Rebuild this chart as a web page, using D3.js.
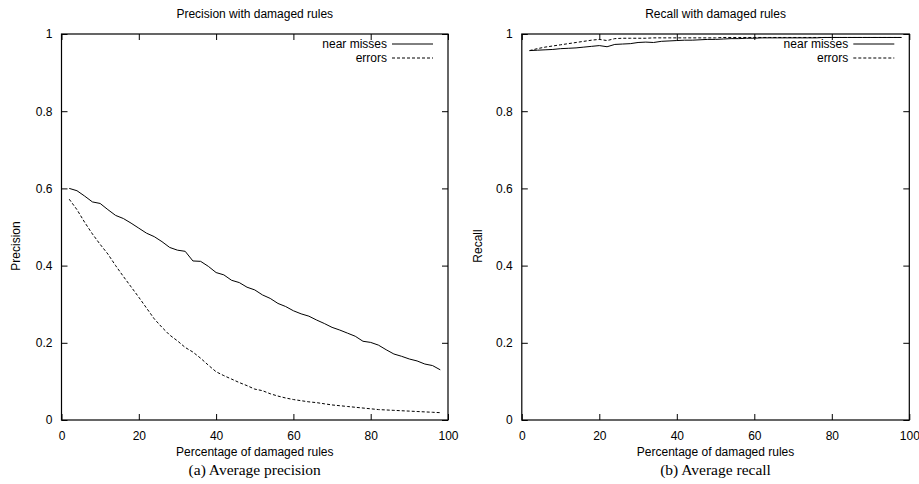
<!DOCTYPE html>
<html lang="en">
<head>
<meta charset="utf-8">
<title>Precision and recall with damaged rules</title>
<style>
  body { margin: 0; background: #fff; }
  svg text { font-family: "Liberation Sans", Arial, sans-serif; font-size: 12px; fill: #000; }
  svg text.caption { font-family: "Liberation Serif", "Times New Roman", serif; font-size: 15.5px; }
</style>
</head>
<body>
<div id="container"></div>
<script src="https://cdnjs.cloudflare.com/ajax/libs/d3/7.8.5/d3.min.js"></script>
<script>
// damaged rule percentages (x values)
var damaged = [2, 4, 6, 8, 10, 12, 14, 16, 18, 20, 22, 24, 26, 28, 30, 32, 34, 36, 38, 40,
  42, 44, 46, 48, 50, 52, 54, 56, 58, 60, 62, 64, 66, 68, 70, 72, 74, 76, 78, 80,
  82, 84, 86, 88, 90, 92, 94, 96, 98];

var precisionNearMisses = [0.600, 0.594, 0.580, 0.565, 0.561, 0.545, 0.530, 0.522, 0.510, 0.497,
  0.484, 0.475, 0.462, 0.447, 0.440, 0.437, 0.412, 0.411, 0.398, 0.382,
  0.376, 0.362, 0.356, 0.344, 0.337, 0.324, 0.315, 0.302, 0.294, 0.283,
  0.275, 0.269, 0.259, 0.250, 0.240, 0.233, 0.225, 0.217, 0.204, 0.201,
  0.194, 0.182, 0.171, 0.165, 0.158, 0.153, 0.145, 0.141, 0.130];

var precisionErrors = [0.572, 0.545, 0.512, 0.482, 0.455, 0.430, 0.400, 0.372, 0.345, 0.318,
  0.290, 0.262, 0.240, 0.220, 0.205, 0.188, 0.176, 0.160, 0.142, 0.125,
  0.115, 0.106, 0.097, 0.089, 0.080, 0.076, 0.068, 0.062, 0.057, 0.053,
  0.050, 0.047, 0.045, 0.042, 0.039, 0.037, 0.035, 0.033, 0.031, 0.029,
  0.027, 0.026, 0.025, 0.024, 0.023, 0.022, 0.021, 0.020, 0.019];

var recallNearMisses = [0.957, 0.958, 0.959, 0.960, 0.962, 0.963, 0.964, 0.966, 0.968, 0.970,
  0.967, 0.973, 0.974, 0.975, 0.978, 0.979, 0.978, 0.981, 0.982, 0.983,
  0.984, 0.984, 0.985, 0.986, 0.986, 0.987, 0.988, 0.988, 0.989, 0.989,
  0.990, 0.990, 0.990, 0.990, 0.990, 0.990, 0.990, 0.990, 0.991, 0.991,
  0.991, 0.991, 0.991, 0.991, 0.991, 0.991, 0.991, 0.991, 0.991];

var recallErrors = [0.957, 0.962, 0.966, 0.969, 0.972, 0.975, 0.978, 0.981, 0.984, 0.986,
  0.983, 0.988, 0.989, 0.989, 0.989, 0.989, 0.990, 0.990, 0.990, 0.990,
  0.990, 0.990, 0.990, 0.990, 0.990, 0.991, 0.991, 0.991, 0.991, 0.991,
  0.991, 0.991, 0.991, 0.991, 0.991, 0.991, 0.991, 0.991, 0.991, 0.991,
  0.991, 0.991, 0.991, 0.991, 0.991, 0.991, 0.991, 0.991, 0.991];

var xTicks = [0, 20, 40, 60, 80, 100];
var yTicks = [0, 0.2, 0.4, 0.6, 0.8, 1];
var seriesNames = ["near misses", "errors"];

var width = 919, height = 484;

var svg = d3.select("#container").append("svg")
  .attr("width", width)
  .attr("height", height);

// one gnuplot-style panel
function drawPanel(opts) {
  var x = d3.scaleLinear().domain([0, 100]).range([opts.left, opts.right]);
  var y = d3.scaleLinear().domain([0, 1]).range([420, 34]);
  var g = svg.append("g");

  // frame
  g.append("rect")
    .attr("x", x(0)).attr("y", y(1))
    .attr("width", x(100) - x(0)).attr("height", y(0) - y(1))
    .attr("fill", "none").attr("stroke", "#000").attr("stroke-width", 1.2);

  // ticks inward, mirrored
  var tl = 6;
  g.append("g")
    .attr("transform", "translate(0," + y(0) + ")")
    .call(d3.axisBottom(x).tickValues(xTicks).tickSize(-tl).tickPadding(tl + 5).tickFormat(d3.format("d")))
    .call(function(a) { a.select(".domain").remove(); });
  g.append("g")
    .attr("transform", "translate(0," + y(1) + ")")
    .call(d3.axisTop(x).tickValues(xTicks).tickSize(-tl).tickFormat(""))
    .call(function(a) { a.select(".domain").remove(); });
  g.append("g")
    .attr("transform", "translate(" + x(0) + ",0)")
    .call(d3.axisLeft(y).tickValues(yTicks).tickSize(-tl).tickPadding(tl + 3).tickFormat(d3.format("~g")))
    .call(function(a) { a.select(".domain").remove(); });
  g.append("g")
    .attr("transform", "translate(" + x(100) + ",0)")
    .call(d3.axisRight(y).tickValues(yTicks).tickSize(-tl).tickFormat(""))
    .call(function(a) { a.select(".domain").remove(); });
  g.selectAll(".tick line").attr("stroke", "#000");
  g.selectAll(".tick text").style("font-size", "12px").attr("font-family", null);

  var line = d3.line()
    .x(function(d, i) { return x(damaged[i]); })
    .y(function(d) { return y(d); });

  var dashes = [null, "3,2"];
  [opts.a, opts.b].forEach(function(s, k) {
    g.append("path")
      .attr("d", line(s))
      .attr("fill", "none")
      .attr("stroke", "#000")
      .attr("stroke-width", 1)
      .attr("stroke-dasharray", dashes[k]);
  });

  // legend
  seriesNames.forEach(function(name, k) {
    var ly = 44 + k * 14;
    g.append("text")
      .attr("x", x(100) - 61).attr("y", ly)
      .attr("dy", "0.35em")
      .attr("text-anchor", "end")
      .text(name);
    g.append("line")
      .attr("x1", x(100) - 56).attr("x2", x(100) - 15)
      .attr("y1", ly).attr("y2", ly)
      .attr("stroke", "#000")
      .attr("stroke-dasharray", dashes[k]);
  });

  var cx = (x(0) + x(100)) / 2;
  g.append("text")
    .attr("x", cx).attr("y", 18)
    .attr("text-anchor", "middle")
    .text(opts.title);
  g.append("text")
    .attr("x", cx).attr("y", 456)
    .attr("text-anchor", "middle")
    .text("Percentage of damaged rules");
  g.append("text")
    .attr("transform", "translate(" + opts.ylabelX + ",246) rotate(-90)")
    .attr("text-anchor", "middle")
    .text(opts.ylabel);
  g.append("text")
    .attr("class", "caption")
    .attr("x", cx).attr("y", 475)
    .attr("text-anchor", "middle")
    .text(opts.caption);
}

drawPanel({
  left: 61.5, right: 448,
  a: precisionNearMisses, b: precisionErrors,
  title: "Precision with damaged rules",
  ylabel: "Precision", ylabelX: 20,
  caption: "(a)  Average precision"
});

drawPanel({
  left: 521.8, right: 909.3,
  a: recallNearMisses, b: recallErrors,
  title: "Recall with damaged rules",
  ylabel: "Recall", ylabelX: 482,
  caption: "(b)  Average recall"
});
</script>
</body>
</html>
